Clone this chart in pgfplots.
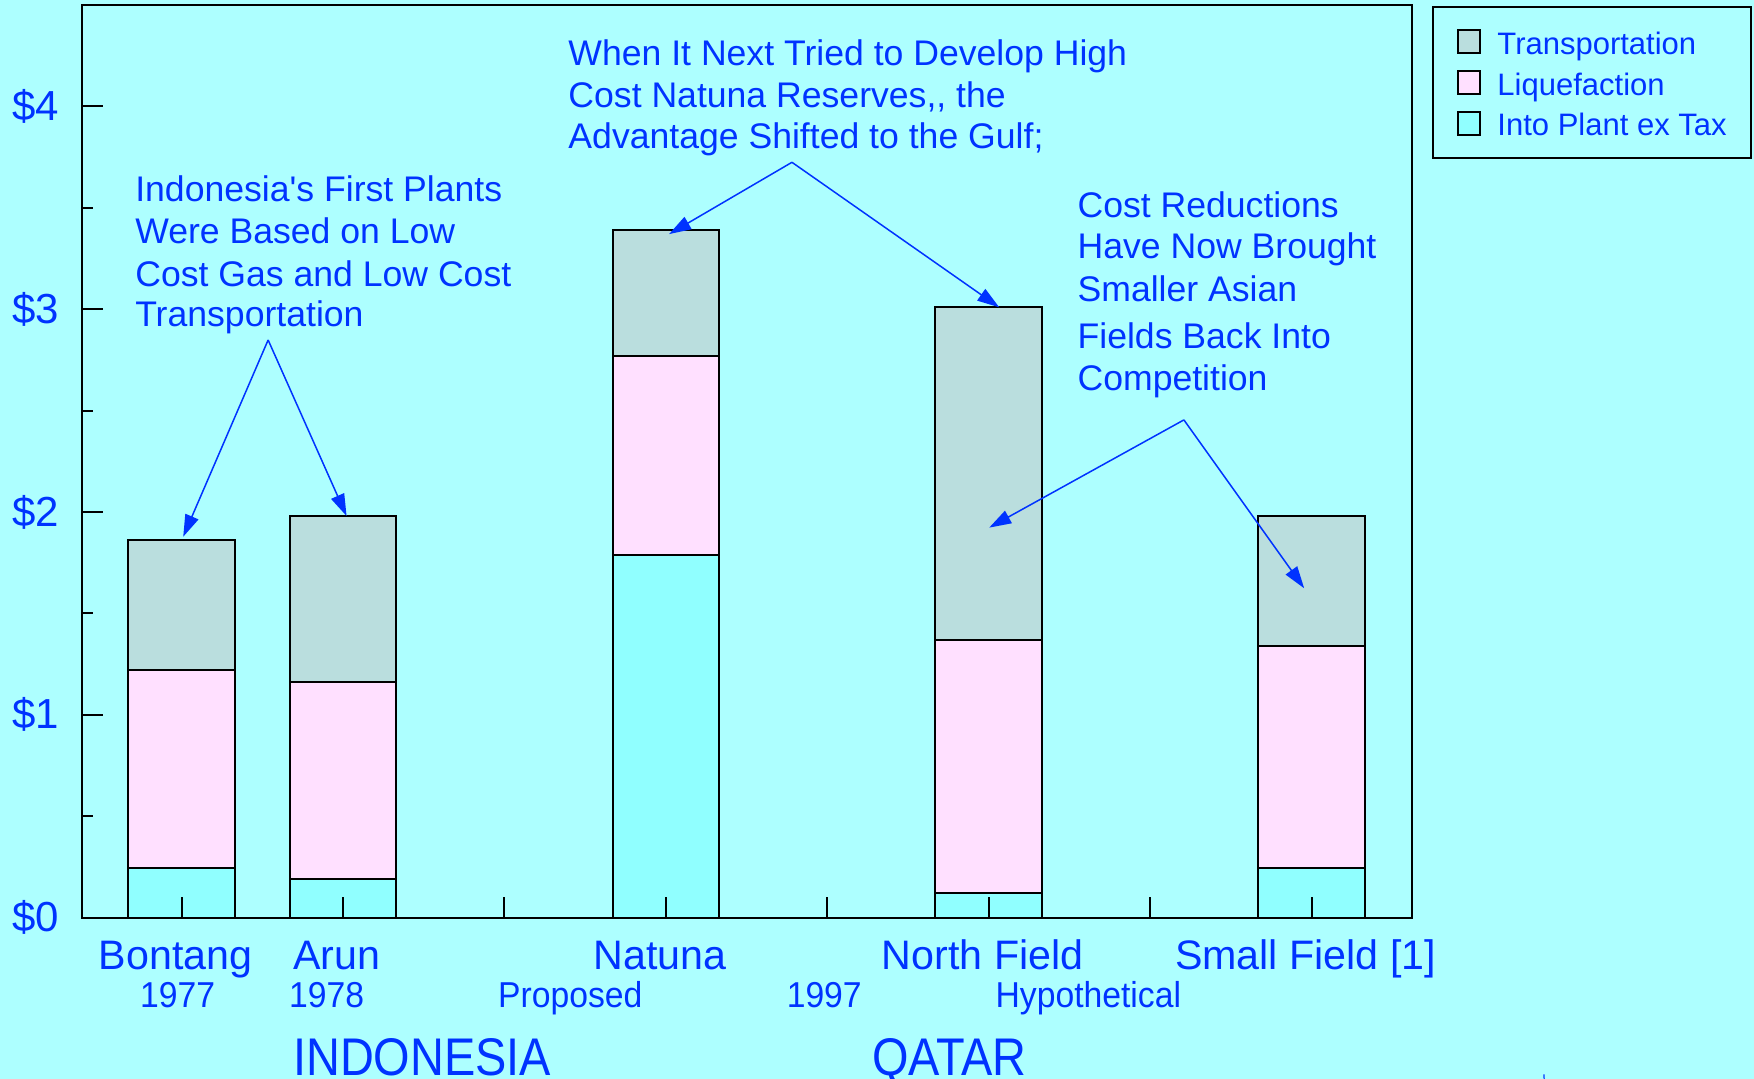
\documentclass[border=0pt]{standalone}
\usepackage{fontspec}
\setmainfont{Liberation Sans}
\usepackage{pgfplots}
\pgfplotsset{compat=1.18}
\usetikzlibrary{arrows.meta}

\definecolor{bgc}{RGB}{173,255,255}
\definecolor{intoc}{RGB}{144,255,255}
\definecolor{liqc}{RGB}{255,224,255}
\definecolor{transc}{RGB}{186,222,222}
\definecolor{ink}{RGB}{0,51,255}

\tikzset{
  ann/.style={anchor=base west, inner sep=0pt, text=ink, font=\fontsize{17.8}{21}\selectfont},
  sub/.style={anchor=base, inner sep=0pt, text=ink, font=\fontsize{18}{21}\selectfont},
  country/.style={anchor=base, inner sep=0pt, text=ink, font=\fontsize{26.5}{30}\selectfont},
  callout/.style={draw=ink, line width=0.75pt, -{Triangle[length=11pt,width=7pt]}},
}

\begin{document}
\begin{tikzpicture}
\fill[bgc] (-41pt,-80.65pt) rectangle (836pt,458.85pt);
\begin{axis}[
  at={(0pt,0pt)}, anchor=south west,
  scale only axis, width=665pt, height=456.4pt,
  xmin=-0.617, xmax=7.622, ymin=0, ymax=4.5,
  ybar stacked, bar width=0.66,
  axis on top, clip=false,
  axis line style={black, line width=1pt},
  tick align=inside, tick pos=left,
  major tick length=10.5pt, minor tick length=5.5pt,
  tick style={black, line width=1pt},
  xtick={0,...,7},
  xticklabels={Bontang,Arun,,Natuna,,North Field,,Small Field [1]},
  xticklabel style={font=\fontsize{20.6}{24}\selectfont, text=ink, anchor=base, inner sep=0pt, yshift=-25.8pt, xshift=-3pt},
  ytick={0,1,2,3,4},
  yticklabels={\$0,\$1,\$2,\$3,\$4},
  minor ytick={0.5,1.5,2.5,3.5},
  yticklabel style={font=\fontsize{21}{24}\selectfont, text=ink, anchor=east, inner sep=0pt, xshift=-11.4pt},
  reverse legend,
  legend cell align=left,
  legend style={at={(1.0148,0.9988)}, anchor=north west, draw=black, line width=1pt, fill=bgc,
    font=\fontsize{15.5}{18.6}\selectfont, text=ink, inner xsep=12pt, inner ysep=8pt,
    row sep=1.6pt, column sep=8pt,
    nodes={inner sep=0pt, text height=15.65pt, text depth=3.15pt}},
  legend image code/.code={\draw[#1,draw=black,line width=1pt] (0pt,-5.7pt) rectangle (11.4pt,5.7pt);},
]
% cost components per plant, $ per MMBtu
\addplot[fill=intoc, draw=black, line width=1pt] coordinates {(0,0.245) (1,0.19) (3,1.79) (5,0.12) (7,0.245)};
\addlegendentry{Into Plant ex Tax}
\addplot[fill=liqc, draw=black, line width=1pt] coordinates {(0,0.975) (1,0.97) (3,0.98) (5,1.25) (7,1.095)};
\addlegendentry{Liquefaction}
\addplot[fill=transc, draw=black, line width=1pt] coordinates {(0,0.64) (1,0.82) (3,0.62) (5,1.64) (7,0.64)};
\addlegendentry{Transportation}

% second row of category labels
\node[sub] at (-0.024,-0.4437) {\scalebox{0.936}[1]{1977}};
\node[sub] at (0.898,-0.4437) {\scalebox{0.936}[1]{1978}};
\node[sub] at (2.408,-0.4437) {\scalebox{0.936}[1]{Proposed}};
\node[sub] at (3.981,-0.4437) {\scalebox{0.936}[1]{1997}};
\node[sub] at (5.617,-0.4437) {\scalebox{0.936}[1]{Hypothetical}};
% country groups
\node[country] at (1.49,-0.778) {\scalebox{0.885}[1]{INDONESIA}};
\node[country] at (4.757,-0.778) {\scalebox{0.885}[1]{QATAR}};

% callout texts
\node[ann] at (-0.2893,3.530) {Indonesia\textquotesingle s First Plants};
\node[ann] at (-0.2893,3.325) {Were Based on Low};
\node[ann] at (-0.2893,3.114) {Cost Gas and Low Cost};
\node[ann] at (-0.2893,2.913) {Transportation};

\node[ann] at (2.394,4.202) {When It Next Tried to Develop High};
\node[ann] at (2.394,3.992) {Cost Natuna Reserves,{}, the};
\node[ann] at (2.394,3.791) {Advantage Shifted to the Gulf;};

\node[ann] at (5.548,3.451) {Cost Reductions};
\node[ann] at (5.548,3.251) {Have Now Brought};
\node[ann] at (5.548,3.037) {Smaller Asian};
\node[ann] at (5.548,2.804) {Fields Back Into};
\node[ann] at (5.548,2.597) {Competition};

% callout arrow anchors
\coordinate (s1) at (0.536,2.848);
\coordinate (e1a) at (0.010,1.878);
\coordinate (e1b) at (1.022,1.980);
\coordinate (s2) at (3.781,3.724);
\coordinate (e2a) at (3.020,3.370);
\coordinate (e2b) at (5.065,3.009);
\coordinate (s3) at (6.209,2.454);
\coordinate (e3a) at (5.003,1.923);
\coordinate (e3b) at (6.954,1.624);
\coordinate (m1) at (8.439,-0.772);
\coordinate (m2) at (8.441,-0.80);
\end{axis}
% arrows drawn over the bars
\draw[callout] (s1) -- (e1a);
\draw[callout] (s1) -- (e1b);
\draw[callout] (s2) -- (e2a);
\draw[callout] (s2) -- (e2b);
\draw[callout] (s3) -- (e3a);
\draw[callout] (s3) -- (e3b);
\draw[ink, line width=0.6pt] (m1) -- (m2);
\pgfresetboundingbox
\path[use as bounding box] (-41pt,-80.65pt) rectangle (836pt,458.85pt);
\end{tikzpicture}
\end{document}
